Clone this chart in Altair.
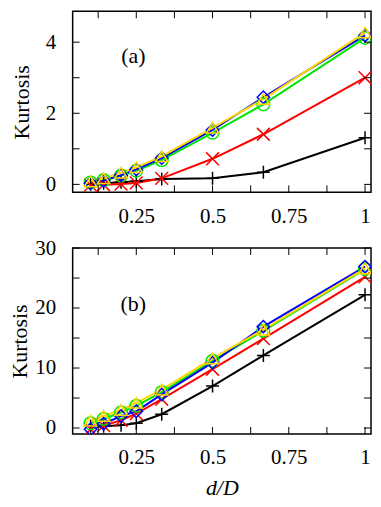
import altair as alt
import pandas as pd

# ---------------- data ----------------
x_vals = [1/10, 1/7, 1/5, 1/4, 1/3, 1/2, 2/3, 1.0]
series_names = ["black", "red", "green", "blue", "yellow"]

a_black = [0.00, 0.03, 0.06, 0.09, 0.15, 0.17, 0.34, 1.31]
a_red = [-0.02, -0.01, 0.01, 0.04, 0.17, 0.72, 1.41, 3.00]
a_green = [0.05, 0.12, 0.25, 0.38, 0.68, 1.45, 2.25, 4.12]
a_blue = [0.03, 0.10, 0.26, 0.42, 0.74, 1.53, 2.45, 4.19]
a_yellow = [0.08, 0.17, 0.33, 0.48, 0.79, 1.59, 2.40, 4.27]

b_black = [0.3, 0.3, 0.45, 0.8, 2.3, 7.0, 12.1, 22.2]
b_red = [-0.2, 0.4, 1.3, 2.4, 4.8, 9.8, 14.9, 25.2]
b_green = [0.8, 1.5, 2.6, 3.7, 6.0, 11.2, 16.2, 26.5]
b_blue = [-0.2, 0.7, 2.0, 2.8, 5.6, 10.9, 16.9, 26.9]
b_yellow = [1.2, 2.0, 3.0, 4.2, 6.4, 11.6, 16.4, 26.6]

x_label_vals = [0.25, 0.5, 0.75, 1.0]
x_tick_vals = [0.125, 0.25, 0.375, 0.5, 0.625, 0.75, 0.875, 1.0]
a_label_vals = [0, 2, 4]
a_tick_vals = [0, 1, 2, 3, 4]
b_label_vals = [0, 10, 20, 30]
b_tick_vals = [0, 5, 10, 15, 20, 25, 30]

# ---------------- style ----------------
FONT = "Liberation Serif"
FS = 21
TFS = 22
colors = ["#000000", "#ff0000", "#00e600", "#0000ff", "#ffd500"]
shapes = ["M-1,0L1,0M0,-1L0,1", "M-1,-1L1,1M-1,1L1,-1", "circle", "diamond", "triangle-up"]
sizes = [170, 150, 110, 170, 230]
W = 300
XDOM = [0.0413, 1.0196]
TL = 7


def long_df(cols):
    rows = []
    for name, vals in zip(series_names, cols):
        for x, v in zip(x_vals, vals):
            rows.append({"x": x, "v": v, "s": name})
    return pd.DataFrame(rows)


def panel(cols, ydom, H, ylabels, yticks, tag, tag_y, title_x, xtitle):
    df = long_df(cols)
    xs = alt.Scale(domain=XDOM, nice=False, zero=False)
    ys = alt.Scale(domain=ydom, nice=False, zero=False)
    cscale = alt.Scale(domain=series_names, range=colors)
    sscale = alt.Scale(domain=series_names, range=shapes)
    zscale = alt.Scale(domain=series_names, range=sizes)

    xaxis_kw = dict(values=x_label_vals, format=".2~f", ticks=False, domain=False, grid=False,
                    labelFont=FONT, labelFontSize=FS, labelPadding=13, labelColor="black",
                    labelFlush=False)
    if xtitle:
        xaxis = alt.Axis(title=xtitle, titleFont=FONT, titleFontSize=TFS, titleFontStyle="italic",
                         titleFontWeight="normal", titleColor="black", titleY=54,
                         titleBaseline="middle", **xaxis_kw)
    else:
        xaxis = alt.Axis(title=None, **xaxis_kw)
    yaxis = alt.Axis(values=ylabels, format="d", ticks=False, domain=False, grid=False,
                     labelFont=FONT, labelFontSize=FS, labelPadding=17, labelColor="black",
                     labelFlush=False, title="Kurtosis", titleFont=FONT, titleFontSize=TFS,
                     titleFontWeight="normal", titleColor="black", titleX=title_x,
                     titleBaseline="middle")

    def X(f):
        return alt.X(f, type="quantitative", scale=xs, axis=xaxis)

    def Y(f):
        return alt.Y(f, type="quantitative", scale=ys, axis=yaxis)

    base = alt.Chart(df)
    lines = base.mark_line(strokeWidth=2, clip=True).encode(
        x=X("x"), y=Y("v"),
        color=alt.Color("s:N", scale=cscale, legend=None),
        detail="s:N",
    )
    pts = base.mark_point(filled=False, strokeWidth=1.5, opacity=1, clip=True).encode(
        x=X("x"), y=Y("v"),
        color=alt.Color("s:N", scale=cscale, legend=None),
        shape=alt.Shape("s:N", scale=sscale, legend=None),
        size=alt.Size("s:N", scale=zscale, legend=None),
    )
    xt = pd.DataFrame({"x": x_tick_vals})
    yt = pd.DataFrame({"v": yticks})
    xt_bot = alt.Chart(xt).mark_rule(color="black", strokeWidth=1).encode(
        x=X("x"), y=alt.value(H), y2=alt.value(H - TL))
    xt_top = alt.Chart(xt).mark_rule(color="black", strokeWidth=1).encode(
        x=X("x"), y=alt.value(0), y2=alt.value(TL))
    yt_left = alt.Chart(yt).mark_rule(color="black", strokeWidth=1).encode(
        y=Y("v"), x=alt.value(0), x2=alt.value(TL))
    yt_right = alt.Chart(yt).mark_rule(color="black", strokeWidth=1).encode(
        y=Y("v"), x=alt.value(W), x2=alt.value(W - TL))
    tag_df = pd.DataFrame({"lab": [tag]})
    tag_txt = alt.Chart(tag_df).mark_text(font=FONT, fontSize=TFS, color="black").encode(
        text="lab:N", x=alt.value(61), y=alt.value(tag_y))
    return alt.layer(lines, pts, xt_bot, xt_top, yt_left, yt_right, tag_txt).properties(
        width=W, height=H)


top = panel([a_black, a_red, a_green, a_blue, a_yellow], [-0.224, 4.867], 182,
            a_label_vals, a_tick_vals, "(a)", 45, -51, None)
bot = panel([b_black, b_red, b_green, b_blue, b_yellow], [-1, 30], 187,
            b_label_vals, b_tick_vals, "(b)", 56, -53, "d/D")

chart = alt.vconcat(top, bot, spacing=56, bounds="flush").properties(
    padding={"left": 0, "top": 0, "right": 0, "bottom": 0}
).configure_view(stroke="black", strokeWidth=1.5).resolve_scale(
    color="independent", shape="independent", size="independent")

chart.save("out.html", embed_options={"renderer": "svg", "actions": False})
